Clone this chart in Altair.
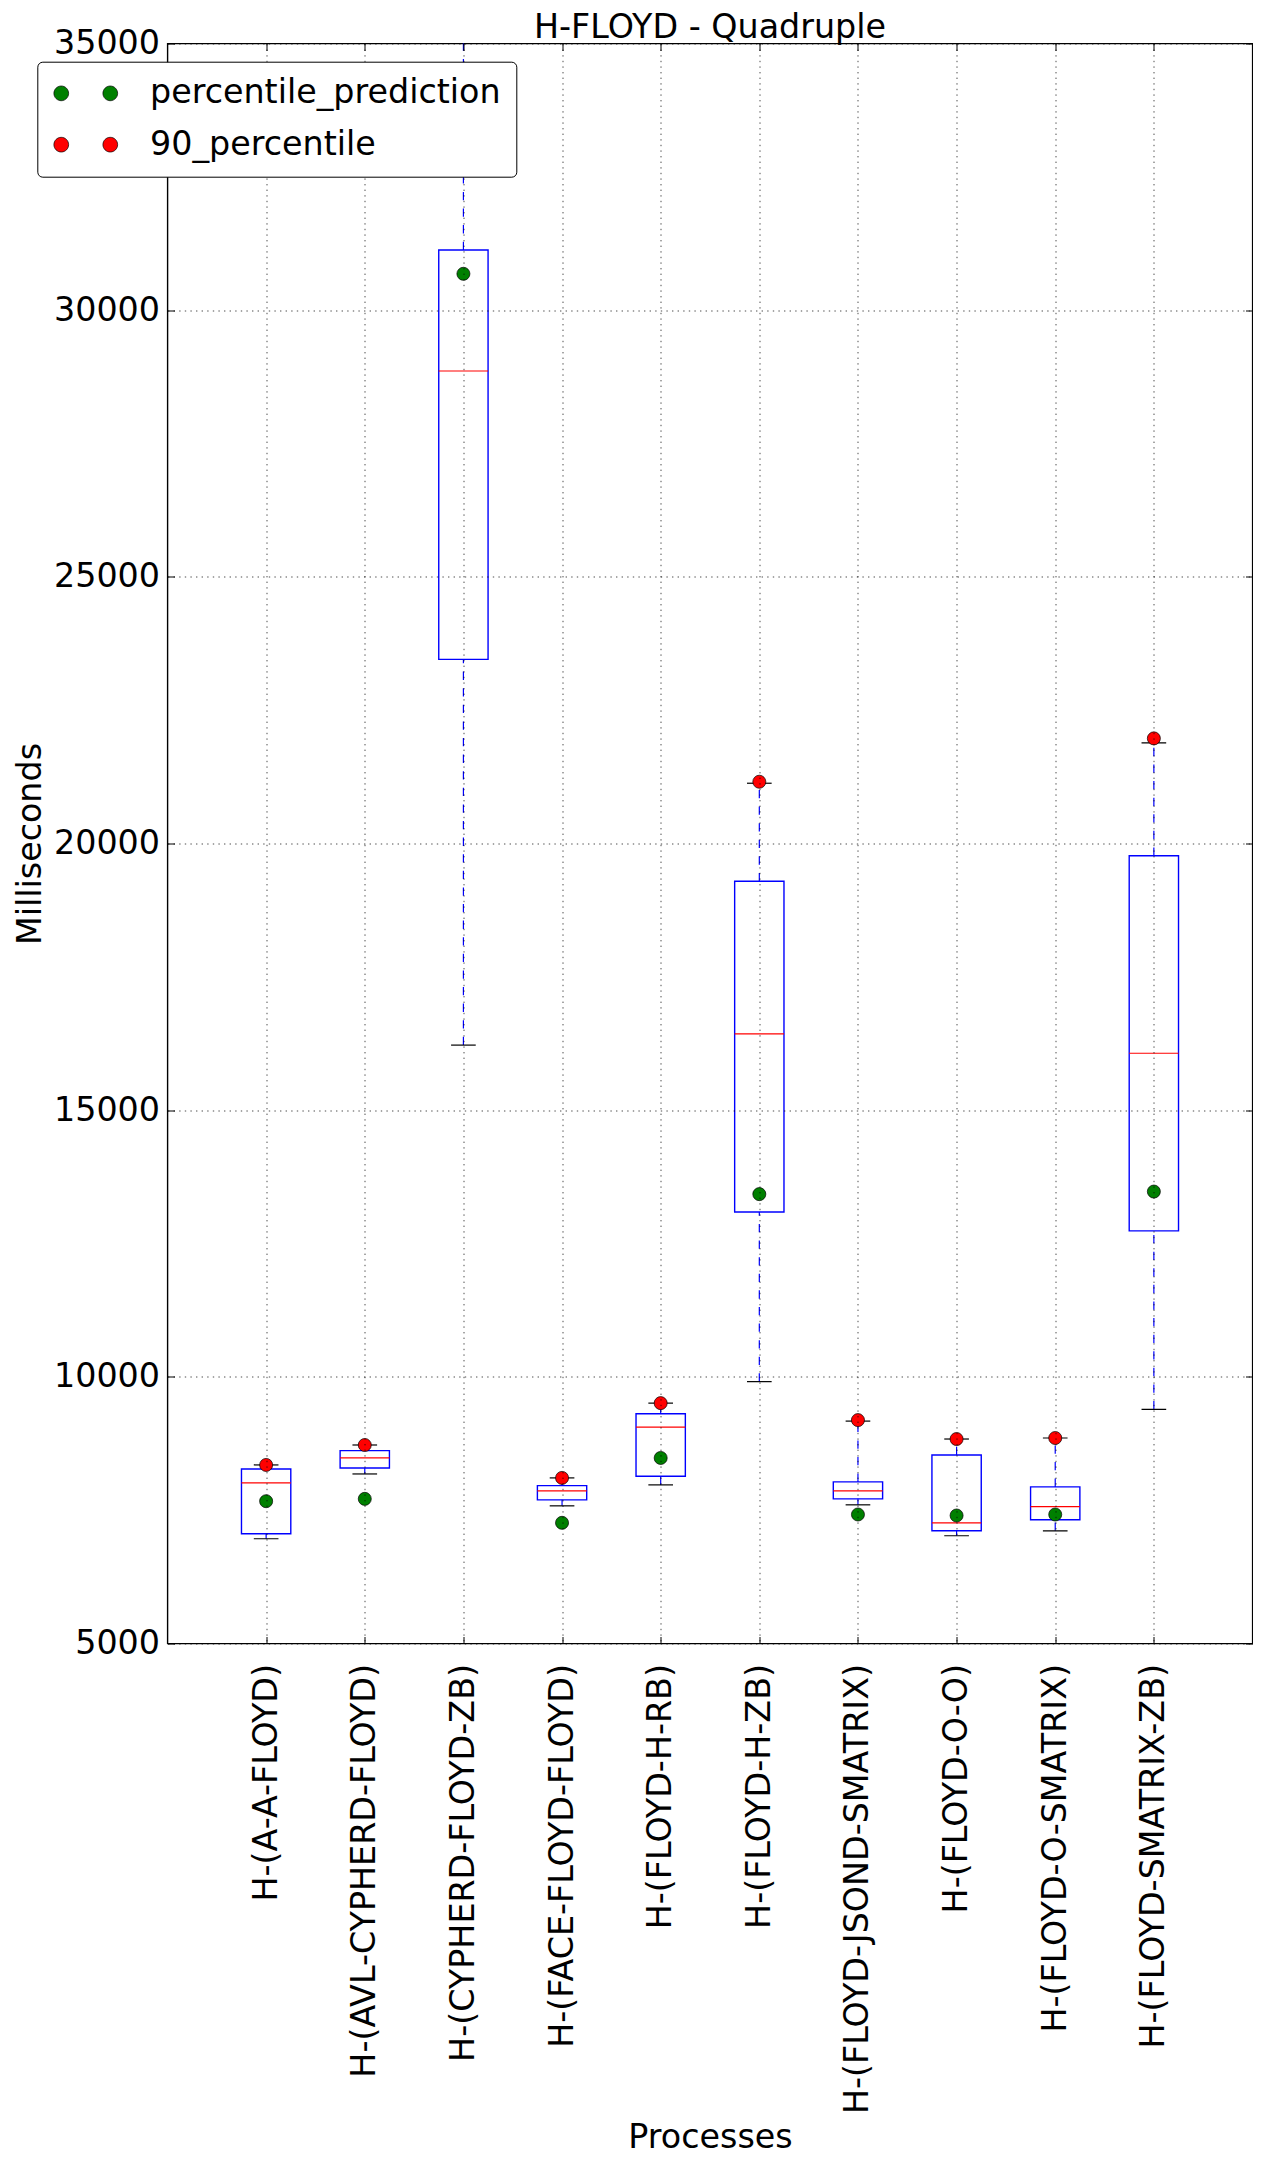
import json
import altair as alt
import pandas as pd

# ---------------- data ----------------
names = [
    "H-(A-A-FLOYD)", "H-(AVL-CYPHERD-FLOYD)", "H-(CYPHERD-FLOYD-ZB)",
    "H-(FACE-FLOYD-FLOYD)", "H-(FLOYD-H-RB)", "H-(FLOYD-H-ZB)",
    "H-(FLOYD-JSOND-SMATRIX)", "H-(FLOYD-O-O)", "H-(FLOYD-O-SMATRIX)",
    "H-(FLOYD-SMATRIX-ZB)",
]
whisker_low = [6964, 8179, 16220, 7581, 7974, 9910, 7600, 7020, 7113, 9390]
q1 = [7057, 8292, 23453, 7693, 8136, 13091, 7712, 7113, 7319, 12737]
median = [8011, 8479, 28859, 7861, 9058, 16431, 7861, 7263, 7568, 16067]
q3 = [8273, 8616, 31128, 7961, 9308, 19292, 8030, 8535, 7936, 19770]
whisker_high = [8348, 8722, 36500, 8105, 9507, 21130, 9170, 8834, 8853, 21885]
percentile_prediction = [7668, 7712, 30682, 7263, 8479, 13426, 7419, 7400, 7419, 13474]
percentile_90 = [8348, 8722, 36500, 8105, 9507, 21158, 9189, 8834, 8853, 21971]

series_names = ["percentile_prediction", "90_percentile"]
y_ticks = [5000, 10000, 15000, 20000, 25000, 30000, 35000]
x_ticks = list(range(1, len(names) + 1))
XMIN, XMAX = 0, len(names) + 1
YMIN, YMAX = 5000, 35000

# ---------------- style ----------------
FONT = "DejaVu Sans"
FS = 33.33
BOX_HALF = 0.25
CAP_HALF = 0.125
BLUE, RED, GREEN = "#0000ff", "#ff0000", "#008000"
W, H = 1085, 1600

boxes = pd.DataFrame({
    "pos": x_ticks, "name": names, "wlo": whisker_low, "q1": q1,
    "med": median, "q3": q3, "whi": whisker_high,
})
points = pd.DataFrame({
    "pos": x_ticks * 2,
    "series": [series_names[0]] * len(names) + [series_names[1]] * len(names),
    "value": percentile_prediction + percentile_90,
})

xscale = alt.Scale(domain=[XMIN, XMAX], nice=False, zero=False)
yscale = alt.Scale(domain=[YMIN, YMAX], nice=False, zero=False)
label_expr = "[" + ",".join(json.dumps(n) for n in names) + "][datum.value - 1]"

ax_bottom = alt.Axis(
    orient="bottom", values=x_ticks, labelExpr=label_expr, labelAngle=270,
    labelAlign="right", labelBaseline="middle", labelPadding=20,
    labelFont=FONT, labelFontSize=FS, labelColor="black", labelFlush=False,
    labelOverlap=False, labelLimit=1000, ticks=True, tickSize=7,
    tickColor="black", tickWidth=1, offset=-7, domain=False, grid=False,
    title="Processes", titleFont=FONT, titleFontSize=FS, titleFontWeight="normal",
    titleColor="black", titleX=W / 2, titleY=510.5, titleAlign="center",
    titleBaseline="alphabetic", zindex=1,
)
ax_left = alt.Axis(
    orient="left", values=y_ticks, format="d", labelPadding=8,
    labelFont=FONT, labelFontSize=FS, labelColor="black", labelFlush=False,
    labelOverlap=False, ticks=True, tickSize=7, tickColor="black", tickWidth=1,
    offset=-7, domain=False, grid=False, title="Milliseconds", titleFont=FONT,
    titleFontSize=FS, titleFontWeight="normal", titleColor="black",
    titleAngle=270, titleX=-133.8, titleY=H / 2, titleAlign="center",
    titleBaseline="alphabetic", zindex=1,
)
ax_top = alt.Axis(
    orient="top", values=x_ticks, labels=False, ticks=True, tickSize=7,
    tickColor="black", tickWidth=1, offset=-7, domain=False, grid=False,
    title=None, zindex=1,
)
ax_right = alt.Axis(
    orient="right", values=y_ticks, labels=False, ticks=True, tickSize=7,
    tickColor="black", tickWidth=1, offset=-7, domain=False, grid=False,
    title=None, zindex=1,
)
ax_xgrid = alt.Axis(
    orient="bottom", values=x_ticks, labels=False, ticks=False, domain=False,
    grid=True, gridColor="black", gridDash=[1.4, 4.2], gridWidth=0.7,
    title=None, zindex=1,
)
ax_ygrid = alt.Axis(
    orient="left", values=y_ticks, labels=False, ticks=False, domain=False,
    grid=True, gridColor="black", gridDash=[1.4, 4.2], gridWidth=0.7,
    title=None, zindex=1,
)

# two marker dots per legend entry (matplotlib numpoints=2)
PATH = ("M -2.015,0 A 0.465,0.465 0 1,1 -1.085,0 A 0.465,0.465 0 1,1 -2.015,0 Z "
        "M 1.085,0 A 0.465,0.465 0 1,1 2.015,0 A 0.465,0.465 0 1,1 1.085,0 Z")

legend = alt.Legend(
    title=None, orient="none", legendX=-130.2, legendY=18.2, direction="vertical",
    symbolType=PATH, symbolSize=1000, symbolStrokeColor="black",
    symbolStrokeWidth=0.7, symbolOpacity=1, labelFont=FONT, labelFontSize=FS,
    labelColor="black", labelLimit=1000, labelOffset=47.6, symbolOffset=16.8,
    padding=15, rowPadding=17.3, fillColor="white", strokeColor="black",
    cornerRadius=5, zindex=3,
)

base = alt.Chart(boxes).transform_calculate(
    lo=f"datum.pos - {BOX_HALF}", hi=f"datum.pos + {BOX_HALF}",
    clo=f"datum.pos - {CAP_HALF}", chi=f"datum.pos + {CAP_HALF}",
)

box_layer = base.mark_rect(
    stroke=BLUE, strokeWidth=1.4, fill="white", fillOpacity=0, clip=True
).encode(
    x=alt.X("lo:Q", scale=xscale, axis=ax_bottom), x2="hi:Q",
    y=alt.Y("q1:Q", scale=yscale, axis=ax_left), y2="q3:Q",
)
whisk_lo = base.mark_rule(
    color=BLUE, strokeWidth=1.2, strokeDash=[8.3, 8.3], clip=True
).encode(
    x=alt.X("pos:Q", scale=xscale, axis=ax_top),
    y=alt.Y("wlo:Q", scale=yscale, axis=ax_right), y2="q1:Q",
)
whisk_hi = base.mark_rule(
    color=BLUE, strokeWidth=1.2, strokeDash=[8.3, 8.3], clip=True
).encode(
    x=alt.X("pos:Q", scale=xscale, axis=None),
    y=alt.Y("q3:Q", scale=yscale, axis=None), y2="whi:Q",
)
cap_lo = base.mark_rule(color="black", strokeWidth=1.2, clip=True).encode(
    x=alt.X("clo:Q", scale=xscale, axis=None), x2="chi:Q",
    y=alt.Y("wlo:Q", scale=yscale, axis=None),
)
cap_hi = base.mark_rule(color="black", strokeWidth=1.2, clip=True).encode(
    x=alt.X("clo:Q", scale=xscale, axis=None), x2="chi:Q",
    y=alt.Y("whi:Q", scale=yscale, axis=None),
)
med_layer = base.mark_rule(color=RED, strokeWidth=1.2, clip=True).encode(
    x=alt.X("lo:Q", scale=xscale, axis=ax_xgrid), x2="hi:Q",
    y=alt.Y("med:Q", scale=yscale, axis=ax_ygrid),
)
pts = alt.Chart(points).mark_circle(
    size=170, opacity=1, stroke="black", strokeWidth=0.7, clip=True
).encode(
    x=alt.X("pos:Q", scale=xscale, axis=None),
    y=alt.Y("value:Q", scale=yscale, axis=None),
    color=alt.Color("series:N", scale=alt.Scale(domain=series_names, range=[GREEN, RED]),
                    legend=legend),
)

chart = alt.layer(
    box_layer, whisk_lo, whisk_hi, cap_lo, cap_hi, med_layer, pts
).resolve_axis(
    x="independent", y="independent"
).properties(
    width=W, height=H,
    title=alt.TitleParams(
        text="H-FLOYD - Quadruple", font=FONT, fontSize=FS, fontWeight="normal",
        color="black", anchor="middle", frame="group", baseline="alphabetic",
        offset=-45.3,
    ),
    autosize=alt.AutoSizeParams(type="none"),
    padding={"left": 159.5, "top": 35.5, "right": 0, "bottom": 512},
).configure(
    font=FONT
).configure_view(
    stroke="black", strokeWidth=1.4
)

chart.save("out.html", embed_options={"renderer": "svg", "actions": False})
